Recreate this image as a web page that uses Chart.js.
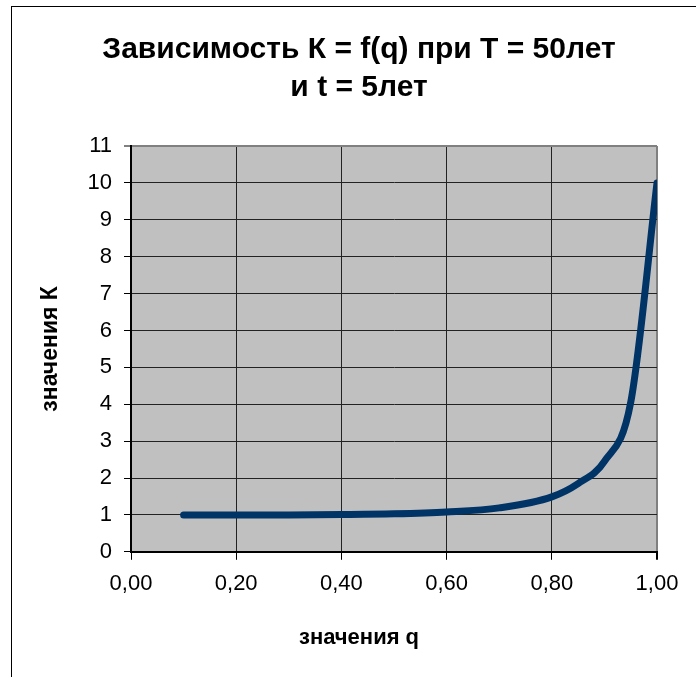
<!DOCTYPE html>
<html lang="ru">
<head>
    <meta charset="UTF-8">
    <title>Зависимость К = f(q)</title>
    <script src="https://cdn.jsdelivr.net/npm/chart.js@4.4.1/dist/chart.umd.min.js"></script>
    <style>
        body {
            margin: 0;
            background: #fff;
        }
        .wrap {
            position: relative;
            width: 696px;
            height: 677px;
            overflow: hidden;
        }
        .frame {
            position: absolute;
            left: 11px;
            top: 6px;
            width: 800px;
            height: 800px;
            border-left: 1px solid #000;
            border-top: 1px solid #000;
            pointer-events: none;
        }
    </style>
</head>
<body>
    <div class="wrap">
        <canvas id="kChart" width="696" height="677"></canvas>
        <div class="frame"></div>
    </div>

    <script>
        // values
        const qValues = [0.1, 0.2, 0.3, 0.4, 0.5, 0.6, 0.7, 0.8, 0.85, 0.9, 0.95, 1.0];
        const kValues = [1.0, 1.0, 1.0, 1.01, 1.03, 1.08, 1.19, 1.49, 1.85, 2.45, 4.05, 10.0];
        const titleLines = ['Зависимость К = f(q) при Т = 50лет', 'и t = 5лет'];
        const xTitle = 'значения q';
        const yTitle = 'значения К';

        const font = 'Liberation Sans, Arial, sans-serif';

        const plotBg = {
            id: 'plotBg',
            beforeDraw(chart) {
                const a = chart.chartArea;
                const ctx = chart.ctx;
                ctx.save();
                ctx.fillStyle = '#c0c0c0';
                ctx.fillRect(a.left, a.top, a.right - a.left, a.bottom - a.top);
                ctx.restore();
            }
        };

        new Chart(document.getElementById('kChart'), {
            type: 'line',
            data: {
                datasets: [{
                    data: qValues.map((q, i) => ({ x: q, y: kValues[i] })),
                    borderColor: '#003366',
                    borderWidth: 7,
                    borderCapStyle: 'round',
                    borderJoinStyle: 'round',
                    pointRadius: 0,
                    cubicInterpolationMode: 'monotone',
                    fill: false
                }]
            },
            options: {
                responsive: false,
                animation: false,
                layout: { padding: { left: 22, right: 0, top: 0, bottom: 27 } },
                plugins: {
                    legend: { display: false },
                    tooltip: { enabled: false },
                    title: {
                        display: true,
                        text: titleLines,
                        color: '#000',
                        font: { family: font, size: 30, weight: 'bold', lineHeight: 1.267 },
                        padding: { top: 31, bottom: 39 }
                    },
                    subtitle: {
                        display: true,
                        position: 'bottom',
                        text: xTitle,
                        color: '#000',
                        font: { family: font, size: 22, weight: 'bold', lineHeight: 1.1 },
                        padding: 0
                    }
                },
                scales: {
                    x: {
                        type: 'linear',
                        min: 0,
                        max: 1,
                        afterFit(s) { s.height = 74; },
                        ticks: {
                            stepSize: 0.2,
                            color: '#000',
                            padding: 11,
                            font: { family: font, size: 22 },
                            callback: v => v.toFixed(2).replace('.', ',')
                        },
                        grid: {
                            color: c => (c.tick && c.tick.value === 1) ? '#808080' : '#222',
                            tickColor: '#000',
                            tickLength: 8,
                            lineWidth: c => (c.tick && c.tick.value === 1) ? 2 : 1
                        },
                        border: { color: '#000', width: 2 }
                    },
                    y: {
                        min: 0,
                        max: 11,
                        afterFit(s) { s.width = 109; },
                        ticks: {
                            stepSize: 1,
                            color: '#000',
                            padding: 12,
                            font: { family: font, size: 22 }
                        },
                        grid: {
                            color: c => (c.tick && c.tick.value === 11) ? '#808080' : '#222',
                            tickColor: c => (c.tick && c.tick.value === 11) ? '#808080' : '#000',
                            tickLength: 7,
                            lineWidth: c => (c.tick && c.tick.value === 11) ? 2 : 1
                        },
                        border: { color: '#000', width: 2 },
                        title: {
                            display: true,
                            text: yTitle,
                            color: '#000',
                            font: { family: font, size: 23, weight: 'bold', lineHeight: 1.2 },
                            padding: { top: 15, bottom: 0 }
                        }
                    },
                    y2: {
                        position: 'right',
                        display: true,
                        afterFit(s) { s.width = 39; },
                        ticks: { display: false },
                        grid: { display: false, drawTicks: false },
                        border: { display: false }
                    }
                }
            },
            plugins: [plotBg]
        });
    </script>
</body>
</html>
